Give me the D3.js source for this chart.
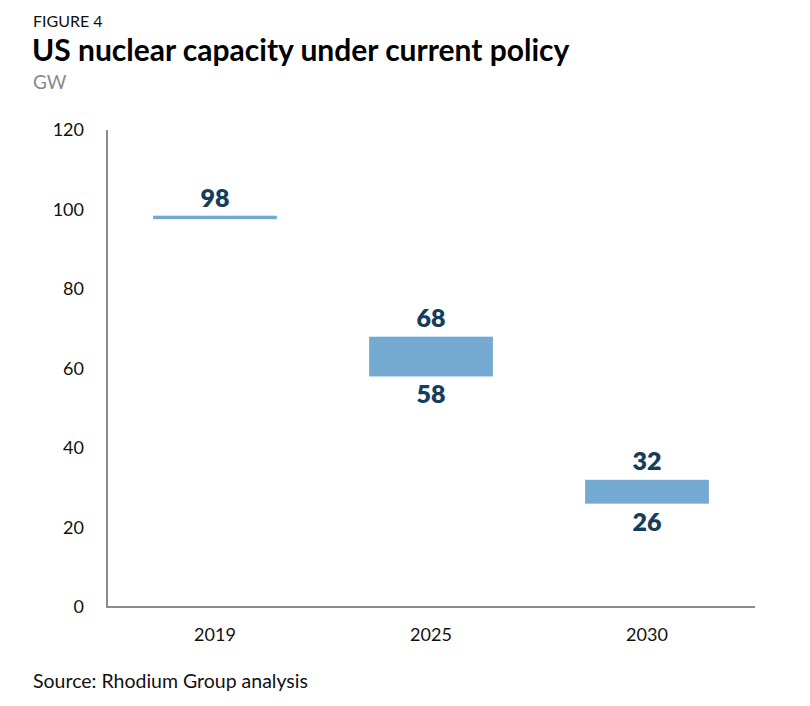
<!DOCTYPE html>
<html><head><meta charset="utf-8">
<script src="https://cdn.jsdelivr.net/npm/d3@7"></script>
<style>body{margin:0;background:#fff}</style>
</head><body>
<script>
const years = ["2019", "2025", "2030"];
const lowValues = [98, 58, 26];
const highValues = [98, 68, 32];
const yTicks = [0, 20, 40, 60, 80, 100, 120];

const W = 810, H = 706;
const font = "Lato, 'Noto Sans', sans-serif";
const svg = d3.select("body").append("svg").attr("width", W).attr("height", H)
  .style("font-family", font);

const margin = {left: 107, right: 55, top: 130, bottom: 99};
const x = d3.scaleBand().domain(years).range([margin.left, W - margin.right]).padding(0);
const y = d3.scaleLinear().domain([0, 120]).range([H - margin.bottom, margin.top]);

// titles
svg.append("text").attr("x", 33).attr("y", 27).text("FIGURE 4")
  .style("font-size", "16px").attr("fill", "#111");
svg.append("text").attr("x", 32).attr("y", 61).text("US nuclear capacity under current policy")
  .style("font-size", "30px").style("font-weight", "700").attr("fill", "#000");
svg.append("text").attr("x", 33).attr("y", 89).text("GW")
  .style("font-size", "19px").attr("fill", "#8a8a8a");

// y axis labels
svg.append("g").selectAll("text").data(yTicks).join("text")
  .attr("x", 84).attr("y", d => y(d)).attr("dy", "0.35em")
  .attr("text-anchor", "end").style("font-size", "18px").attr("fill", "#111")
  .text(d => d);

// axis lines
svg.append("line").attr("x1", margin.left).attr("x2", margin.left)
  .attr("y1", y(120)).attr("y2", y(0)).attr("stroke", "#8c8c8c").attr("stroke-width", 2);
svg.append("line").attr("x1", margin.left - 1).attr("x2", W - margin.right)
  .attr("y1", y(0)).attr("y2", y(0)).attr("stroke", "#8c8c8c").attr("stroke-width", 2);

// x labels
svg.append("g").selectAll("text").data(years).join("text")
  .attr("x", d => x(d) + x.bandwidth() / 2).attr("y", y(0) + 34)
  .attr("text-anchor", "middle").style("font-size", "18px").attr("fill", "#111")
  .text(d => d);

const data = years.map((yr, i) => ({yr, lo: lowValues[i], hi: highValues[i]}));
const bw = x.bandwidth() * 0.573;
const minH = 3.5;

svg.append("g").selectAll("rect").data(data).join("rect")
  .attr("x", d => x(d.yr) + (x.bandwidth() - bw) / 2)
  .attr("width", bw)
  .attr("y", d => { const h = y(d.lo) - y(d.hi); return h < minH ? (y(d.hi) - minH / 2) : y(d.hi); })
  .attr("height", d => Math.max(minH, y(d.lo) - y(d.hi)))
  .attr("fill", "#74a9d2");

const labColor = "#173d5c";
// high labels
svg.append("g").selectAll("text").data(data).join("text")
  .attr("x", d => x(d.yr) + x.bandwidth() / 2)
  .attr("y", d => y(d.hi) - 10)
  .attr("text-anchor", "middle").style("font-size", "25px").style("font-weight", "800")
  .attr("fill", labColor).text(d => d.hi);
// low labels
svg.append("g").selectAll("text").data(data.filter(d => d.lo !== d.hi)).join("text")
  .attr("x", d => x(d.yr) + x.bandwidth() / 2)
  .attr("y", d => y(d.lo) + 27)
  .attr("text-anchor", "middle").style("font-size", "25px").style("font-weight", "800")
  .attr("fill", labColor).text(d => d.lo);

svg.append("text").attr("x", 33).attr("y", 688).text("Source: Rhodium Group analysis")
  .style("font-size", "19.5px").attr("fill", "#111");
</script>
</body></html>
